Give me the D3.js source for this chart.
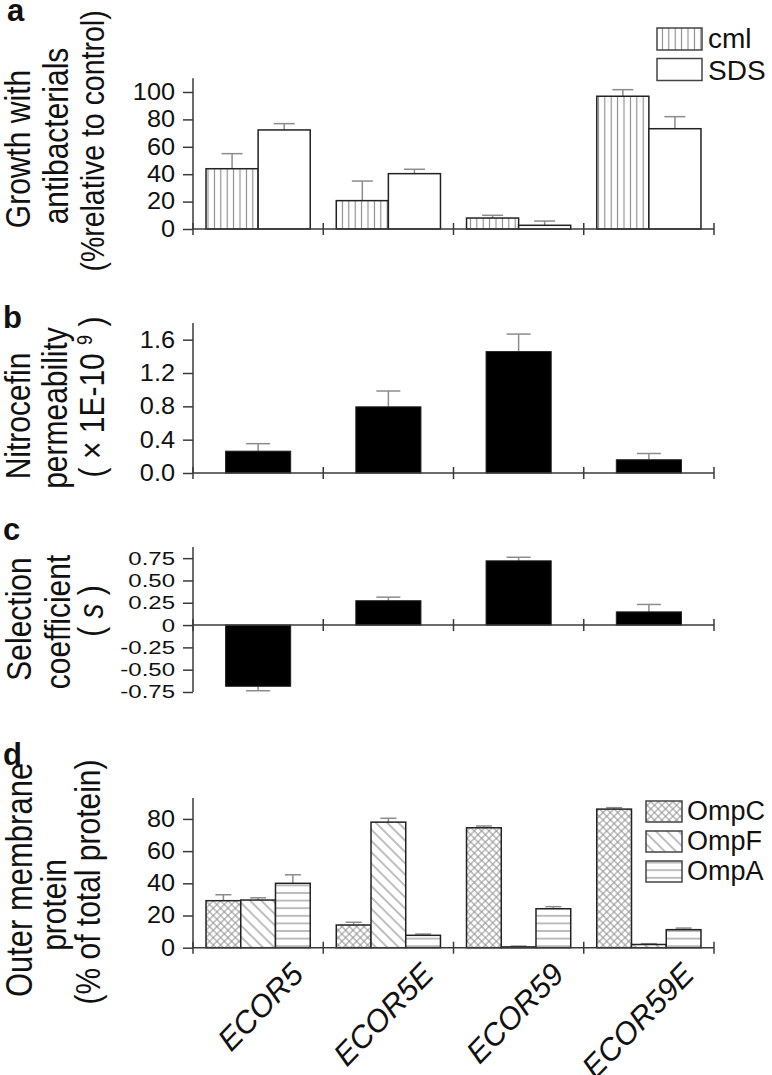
<!DOCTYPE html>
<html>
<head>
<meta charset="utf-8">
<script src="https://cdn.jsdelivr.net/npm/d3@7"></script>
<style>
  html, body { margin: 0; padding: 0; background: #fff; }
  svg { display: block; font-family: "Liberation Sans", Arial, Helvetica, sans-serif; }
</style>
</head>
<body>
<svg id="chart" width="772" height="1075"></svg>
<script>
// ---------------- data ----------------
const categories = ["ECOR5", "ECOR5E", "ECOR59", "ECOR59E"];

// panel a: growth with antibacterials (% relative to control)
const growthSeries = ["cml", "SDS"];
const cmlValues = [44, 20.7, 8, 96.9];
const cmlErrors = [11, 14.3, 2, 4.8];
const sdsValues = [72.3, 40.4, 2.7, 73.2];
const sdsErrors = [4.6, 3.2, 3.1, 8.8];
const growthTicks = [0, 20, 40, 60, 80, 100];
const growthMinor = [10, 30, 50, 70, 90, 110];

// panel b: nitrocefin permeability (x 1E-10^9)
const permValues = [0.262, 0.794, 1.457, 0.159];
const permErrors = [0.09, 0.19, 0.21, 0.075];
const permTicks = [0, 0.4, 0.8, 1.2, 1.6];
const permMinor = [0.2, 0.6, 1.0, 1.4, 1.8];

// panel c: selection coefficient (s)
const selValues = [-0.686, 0.273, 0.72, 0.148];
const selErrors = [0.05, 0.04, 0.04, 0.083];
const selTicks = [-0.75, -0.5, -0.25, 0, 0.25, 0.5, 0.75];
const selMinor = [-0.625, -0.375, -0.125, 0.125, 0.375, 0.625, 0.875];

// panel d: outer membrane protein (% of total protein)
const ompSeries = ["OmpC", "OmpF", "OmpA"];
const ompCValues = [29.2, 14.1, 74.5, 86.1];
const ompCErrors = [3.7, 1.7, 1.1, 0.9];
const ompFValues = [29.6, 78, 0.5, 2];
const ompFErrors = [1.4, 2.4, 0.5, 0.5];
const ompAValues = [40, 7.7, 24.2, 11.2];
const ompAErrors = [5.3, 0.8, 1.3, 1.0];
const ompTicks = [0, 20, 40, 60, 80];
const ompMinor = [10, 30, 50, 70, 90];

// ---------------- setup ----------------
const svg = d3.select("#chart");
svg.append("rect").attr("width", 772).attr("height", 1075).attr("fill", "#fff");

const AX = "#3a3a3a", HATCH = "#8a8a8a", ERR = "#8c8c8c", OUT = "#222", TXT = "#111";
const defs = svg.append("defs");
function pat(id, w, h, transform, draw) {
  const p = defs.append("pattern").attr("id", id).attr("patternUnits", "userSpaceOnUse")
    .attr("width", w).attr("height", h);
  if (transform) p.attr("patternTransform", transform);
  p.append("rect").attr("width", w).attr("height", h).attr("fill", "#fff");
  draw(p);
}
pat("vlines", 6.4, 10, null, p => p.append("line").attr("x1", 3.2).attr("x2", 3.2).attr("y1", 0).attr("y2", 10).attr("stroke", HATCH).attr("stroke-width", 1.1));
pat("hlines", 10, 7.6, null, p => p.append("line").attr("x1", 0).attr("x2", 10).attr("y1", 3.8).attr("y2", 3.8).attr("stroke", HATCH).attr("stroke-width", 1.1));
pat("diag", 8, 8, "rotate(45)", p => p.append("line").attr("x1", 0).attr("x2", 8).attr("y1", 4).attr("y2", 4).attr("stroke", HATCH).attr("stroke-width", 1.1));
pat("cross", 5.2, 5.2, "rotate(45)", p => {
  p.append("line").attr("x1", 0).attr("x2", 5.2).attr("y1", 2.6).attr("y2", 2.6).attr("stroke", HATCH).attr("stroke-width", 0.9);
  p.append("line").attr("y1", 0).attr("y2", 5.2).attr("x1", 2.6).attr("x2", 2.6).attr("stroke", HATCH).attr("stroke-width", 0.9);
});

const x = d3.scaleBand().domain(categories).range([193, 714]).padding(0);
const hyphen = s => s.replace("\u2212", "-");

function yAxis(y, ticks, minor, fmt, fontSize, sx, sy) {
  const g = svg.append("g").attr("transform", "translate(193,0)");
  g.call(d3.axisLeft(y).tickValues(minor).tickSize(5).tickFormat(""));
  g.call(d3.axisLeft(y).tickValues(ticks).tickSize(10).tickPadding(8).tickFormat(fmt));
  g.selectAll(".domain").remove();
  g.selectAll(".tick line").attr("stroke", AX).attr("stroke-width", 1.5);
  g.selectAll(".tick text").attr("fill", TXT).style("font-size", fontSize + "px")
    .attr("x", -18 / sx).attr("transform", `scale(${sx},${sy})`);
  const d = y.domain();
  g.append("line").attr("x1", 0).attr("x2", 0).attr("y1", y(d[1])).attr("y2", y(d[0]))
    .attr("stroke", AX).attr("stroke-width", 1.5);
}
function xAxis(y0) {
  const g = svg.append("g");
  g.append("line").attr("x1", x.range()[0]).attr("x2", x.range()[1]).attr("y1", y0).attr("y2", y0)
    .attr("stroke", AX).attr("stroke-width", 1.5);
  const bounds = categories.map(c => x(c)).concat([x.range()[1]]);
  g.selectAll("line.div").data(bounds).enter().append("line").attr("class", "div")
    .attr("x1", d => d).attr("x2", d => d).attr("y1", y0 - 6).attr("y2", y0 + 6)
    .attr("stroke", AX).attr("stroke-width", 1.5);
}
function errBar(g, cx, y, v, e, cap) {
  const yv = y(v), ye = y(v >= 0 ? v + e : v - e);
  g.append("line").attr("x1", cx).attr("x2", cx).attr("y1", yv).attr("y2", ye).attr("stroke", ERR).attr("stroke-width", 1.5);
  g.append("line").attr("x1", cx - cap / 2).attr("x2", cx + cap / 2).attr("y1", ye).attr("y2", ye).attr("stroke", ERR).attr("stroke-width", 1.5);
}
function rotTitle(lines) {
  lines.forEach(l => {
    const t = svg.append("text").attr("transform", `translate(${l.x},${l.y}) rotate(-90) scale(1,1.18)`)
      .attr("text-anchor", "middle").style("font-size", (l.size || 30) + "px").attr("fill", TXT);
    if (l.parts) l.parts.forEach(p => {
      const ts = t.append("tspan").text(p.t);
      if (p.sup) ts.attr("baseline-shift", "super").style("font-size", "18px");
      if (p.it) ts.style("font-style", "italic");
    });
    else t.text(l.text);
  });
}
function panelLabel(s, px, py) {
  svg.append("text").attr("x", px).attr("y", py).text(s).style("font-size", "31px").style("font-weight", "bold").attr("fill", TXT);
}

// ---------------- panel a ----------------
{
  const y = d3.scaleLinear().domain([0, 110]).range([229, 78.3]);
  const x1 = d3.scaleBand().domain(growthSeries).range([0, x.bandwidth()]).paddingOuter(0.25).paddingInner(0);
  const data = [
    { s: "cml", v: cmlValues, e: cmlErrors, fill: "url(#vlines)" },
    { s: "SDS", v: sdsValues, e: sdsErrors, fill: "#fff" }
  ];
  const g = svg.append("g");
  data.forEach(ser => {
    categories.forEach((c, i) => {
      const bx = x(c) + x1(ser.s), bw = x1.bandwidth();
      errBar(g, bx + bw / 2, y, ser.v[i], ser.e[i], 21);
      g.append("rect").attr("x", bx).attr("y", y(ser.v[i])).attr("width", bw).attr("height", y(0) - y(ser.v[i]))
        .attr("fill", ser.fill).attr("stroke", OUT).attr("stroke-width", 1.5);
    });
  });
  xAxis(229);
  yAxis(y, growthTicks, growthMinor, d3.format("d"), 23, 1.1, 1);
  data.forEach((ser, i) => {
    svg.append("rect").attr("x", 657).attr("y", 28 + i * 30.5).attr("width", 45).attr("height", 22)
      .attr("fill", ser.fill).attr("stroke", "#444").attr("stroke-width", 1.5);
    svg.append("text").attr("x", 708).attr("y", 48 + i * 32).text(ser.s).style("font-size", "28px").attr("fill", TXT);
  });
  panelLabel("a", 7, 21);
  rotTitle([
    { text: "Growth with", x: 30, y: 149 },
    { text: "antibacterials", x: 68, y: 136 },
    { text: "(%relative to control)", x: 104, y: 141, size: 28.5 }
  ]);
}

// ---------------- panel b ----------------
{
  const y = d3.scaleLinear().domain([0, 1.8]).range([473, 323]);
  const g = svg.append("g");
  categories.forEach((c, i) => {
    const bw = x.bandwidth() * 0.5, bx = x(c) + x.bandwidth() * 0.25;
    errBar(g, bx + bw / 2, y, permValues[i], permErrors[i], 24);
    g.append("rect").attr("x", bx).attr("y", y(permValues[i])).attr("width", bw).attr("height", y(0) - y(permValues[i]))
      .attr("fill", "#000").attr("stroke", OUT).attr("stroke-width", 1);
  });
  xAxis(473);
  yAxis(y, permTicks, permMinor, d3.format(".1f"), 23, 1.1, 1);
  panelLabel("b", 3, 328);
  rotTitle([
    { text: "Nitrocefin", x: 30, y: 416 },
    { text: "permeability", x: 67, y: 408 },
    { parts: [{ t: "( × 1E-10 " }, { t: "9", sup: true }, { t: " )" }], x: 104, y: 397 }
  ]);
}

// ---------------- panel c ----------------
{
  const y = d3.scaleLinear().domain([-0.75, 0.875]).range([692, 547]);
  const g = svg.append("g");
  categories.forEach((c, i) => {
    const bw = x.bandwidth() * 0.5, bx = x(c) + x.bandwidth() * 0.25;
    const v = selValues[i];
    errBar(g, bx + bw / 2, y, v, selErrors[i], 24);
    g.append("rect").attr("x", bx).attr("y", Math.min(y(v), y(0))).attr("width", bw).attr("height", Math.abs(y(0) - y(v)))
      .attr("fill", "#000").attr("stroke", OUT).attr("stroke-width", 1);
  });
  xAxis(y(0));
  yAxis(y, selTicks, selMinor, d => d === 0 ? "0" : hyphen(d3.format(".2f")(d)), 24, 1.0, 0.78);
  panelLabel("c", 3, 540);
  rotTitle([
    { text: "Selection", x: 31, y: 619 },
    { text: "coefficient", x: 70, y: 622 },
    { parts: [{ t: "( " }, { t: "s", it: true }, { t: " )" }], x: 103, y: 611 }
  ]);
}

// ---------------- panel d ----------------
{
  const y = d3.scaleLinear().domain([0, 93]).range([947.7, 798]);
  const x1 = d3.scaleBand().domain(ompSeries).range([0, x.bandwidth()]).paddingOuter(0.375).paddingInner(0);
  const data = [
    { s: "OmpC", v: ompCValues, e: ompCErrors, fill: "url(#cross)" },
    { s: "OmpF", v: ompFValues, e: ompFErrors, fill: "url(#diag)" },
    { s: "OmpA", v: ompAValues, e: ompAErrors, fill: "url(#hlines)" }
  ];
  const g = svg.append("g");
  data.forEach(ser => {
    categories.forEach((c, i) => {
      const bx = x(c) + x1(ser.s), bw = x1.bandwidth();
      errBar(g, bx + bw / 2, y, ser.v[i], ser.e[i], 16);
      g.append("rect").attr("x", bx).attr("y", y(ser.v[i])).attr("width", bw).attr("height", y(0) - y(ser.v[i]))
        .attr("fill", ser.fill).attr("stroke", OUT).attr("stroke-width", 1.5);
    });
  });
  xAxis(947.7);
  yAxis(y, ompTicks, ompMinor, d3.format("d"), 23, 1.1, 1);
  data.forEach((ser, i) => {
    svg.append("rect").attr("x", 646).attr("y", 801 + i * 30).attr("width", 36).attr("height", 21)
      .attr("fill", ser.fill).attr("stroke", "#444").attr("stroke-width", 1.5);
    svg.append("text").attr("x", 687).attr("y", 820 + i * 30).text(ser.s).style("font-size", "27px").attr("fill", TXT);
  });
  svg.selectAll("text.cat").data(categories).enter().append("text").attr("class", "cat")
    .attr("transform", c => `translate(${x(c) + x.bandwidth() / 2 + 47},${976}) rotate(-46)`)
    .attr("text-anchor", "end").style("font-size", "31px").style("font-style", "italic").attr("fill", TXT)
    .text(c => c);
  panelLabel("d", 3, 765);
  rotTitle([
    { text: "Outer membrane", x: 32, y: 880, size: 31 },
    { text: "protein", x: 66, y: 905 },
    { text: "(% of total protein)", x: 100, y: 882 }
  ]);
}
</script>
</body>
</html>
